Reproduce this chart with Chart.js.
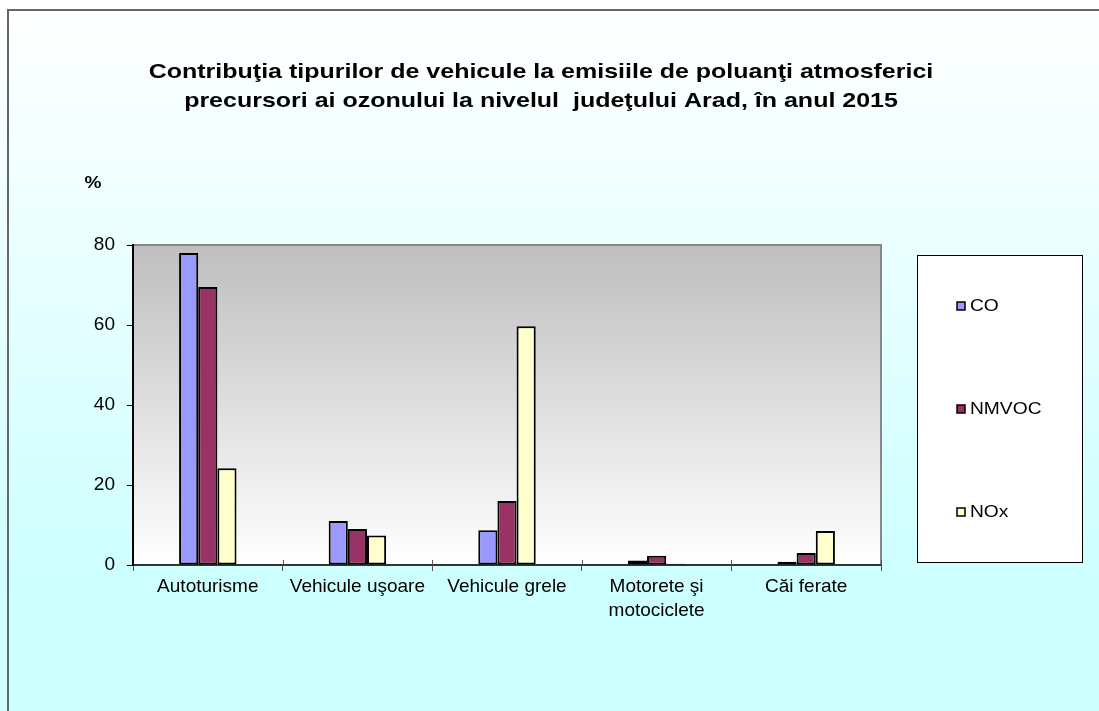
<!DOCTYPE html>
<html>
<head>
<meta charset="utf-8">
<script src="https://cdn.jsdelivr.net/npm/chart.js@4.4.1/dist/chart.umd.min.js"></script>
<style>
  html, body { margin: 0; padding: 0; background: #fff; }
  #wrap { width: 1099px; height: 711px; position: relative; }
</style>
</head>
<body>
<div id="wrap"><canvas id="c"></canvas></div>
<script>
const categories = ["Autoturisme", "Vehicule uşoare", "Vehicule grele", ["Motorete şi", "motociclete"], "Căi ferate"];
const seriesNames = ["CO", "NMVOC", "NOx"];
const coValues = [78, 11, 8.7, 1.1, 0.8];
const nmvocValues = [69.5, 9, 16, 2.3, 3];
const noxValues = [24.2, 7.4, 59.7, 0.3, 8.5];
const yTicks = [0, 20, 40, 60, 80];
const titleLines = ["Contribuţia tipurilor de vehicule la emisiile de poluanţi atmosferici",
                    "precursori ai ozonului la nivelul  judeţului Arad, în anul 2015"];
const yUnit = "%";

const FONT = "'Liberation Sans', Arial, sans-serif";
const colors = ["#9999FF", "#993366", "#FFFFCC"];

const decor = {
  id: 'decor',
  beforeDraw(chart) {
    const ctx = chart.ctx;
    const W = chart.width, H = chart.height;
    ctx.save();
    const g = ctx.createLinearGradient(0, 10, 0, 600);
    g.addColorStop(0, '#FFFFFF');
    g.addColorStop(1, '#CCFFFF');
    ctx.fillStyle = g;
    ctx.fillRect(0, 0, W, H);
    ctx.strokeStyle = '#666666';
    ctx.lineWidth = 2;
    ctx.beginPath();
    ctx.moveTo(W + 5, 10);
    ctx.lineTo(8, 10);
    ctx.lineTo(8, H + 5);
    ctx.stroke();
    const a = chart.chartArea;
    const pg = ctx.createLinearGradient(0, a.top, 0, a.bottom);
    pg.addColorStop(0, '#BEBEBE');
    pg.addColorStop(1, '#FFFFFF');
    ctx.fillStyle = pg;
    ctx.fillRect(a.left, a.top, a.right - a.left, a.bottom - a.top);
    ctx.strokeStyle = '#888888';
    ctx.lineWidth = 2;
    ctx.beginPath();
    ctx.moveTo(a.left, a.top);
    ctx.lineTo(a.right, a.top);
    ctx.lineTo(a.right, a.bottom);
    ctx.stroke();
    ctx.restore();
  },
  afterDraw(chart) {
    const ctx = chart.ctx;
    ctx.save();
    // x tick marks crossing the axis (upper part)
    const xs = chart.scales.x;
    ctx.strokeStyle = '#555555';
    ctx.lineWidth = 1;
    const n = xs.ticks.length;
    for (let i = 1; i <= n; i++) {
      const px = Math.round((xs.getPixelForTick(i - 1) + (i < n ? xs.getPixelForTick(i) : 2 * xs.getPixelForTick(i - 1) - xs.getPixelForTick(i - 2))) / 2) + 0.5;
      ctx.beginPath();
      ctx.moveTo(px, xs.top - 5);
      ctx.lineTo(px, xs.top);
      ctx.stroke();
    }
    ctx.fillStyle = '#000';
    ctx.textBaseline = 'middle';
    ctx.textAlign = 'center';
    const sx = 1.19;
    ctx.font = 'bold 21px ' + FONT;
    [72, 101].forEach((y, i) => {
      ctx.save();
      ctx.translate(541, y);
      ctx.scale(sx, 1);
      ctx.fillText(titleLines[i], 0, 0);
      ctx.restore();
    });
    ctx.save();
    ctx.translate(93, 183);
    ctx.scale(1.12, 1);
    ctx.font = 'bold 17px ' + FONT;
    ctx.fillText(yUnit, 0, 0);
    ctx.restore();
    ctx.fillStyle = '#FFFFFF';
    ctx.fillRect(917, 255, 165, 307);
    ctx.strokeStyle = '#000';
    ctx.lineWidth = 1;
    ctx.strokeRect(917.5, 255.5, 165, 307);
    const ys = [306, 409, 512];
    chart.data.datasets.forEach((ds, i) => {
      const y = ys[i];
      ctx.fillStyle = ds.backgroundColor;
      ctx.fillRect(957, y - 4, 8, 8);
      ctx.strokeStyle = '#000';
      ctx.lineWidth = 1.5;
      ctx.strokeRect(957, y - 4, 8, 8);
      ctx.save();
      ctx.translate(970, y);
      ctx.scale(1.13, 1);
      ctx.fillStyle = '#000';
      ctx.textAlign = 'left';
      ctx.font = '17px ' + FONT;
      ctx.fillText(ds.label, 0, 0);
      ctx.restore();
    });
    ctx.restore();
  }
};

new Chart(document.getElementById('c'), {
  type: 'bar',
  data: {
    labels: categories,
    datasets: [
      { label: seriesNames[0], data: coValues, backgroundColor: colors[0] },
      { label: seriesNames[1], data: nmvocValues, backgroundColor: colors[1] },
      { label: seriesNames[2], data: noxValues, backgroundColor: colors[2] }
    ].map(d => Object.assign(d, {
      borderColor: '#000000', borderWidth: 2, borderSkipped: false,
      categoryPercentage: 0.384, barPercentage: 1.0
    }))
  },
  options: {
    responsive: true,
    maintainAspectRatio: false,
    animation: false,
    layout: { padding: { top: 245, right: 218, bottom: 46, left: 0 } },
    plugins: {
      legend: { display: false },
      title: { display: false },
      tooltip: { enabled: false }
    },
    scales: {
      x: {
        grid: { display: true, drawOnChartArea: false, drawTicks: true, tickLength: 6, color: '#555555', offset: true },
        border: { display: true, color: '#333333', width: 2 },
        ticks: { color: '#000', font: { family: FONT, size: 19, lineHeight: 1.263 }, padding: 4, maxRotation: 0, autoSkip: false },
        afterFit(scale) { scale.height = 100; }
      },
      y: {
        min: 0, max: 80,
        afterBuildTicks(scale) { scale.ticks = yTicks.map(v => ({ value: v })); },
        grid: { display: true, drawOnChartArea: false, drawTicks: true, tickLength: 6, color: '#000000' },
        border: { display: true, color: '#000000', width: 2 },
        ticks: { color: '#000', font: { family: FONT, size: 19 }, padding: 12 },
        afterFit(scale) { scale.width = 133; }
      }
    }
  },
  plugins: [decor]
});
</script>
</body>
</html>
